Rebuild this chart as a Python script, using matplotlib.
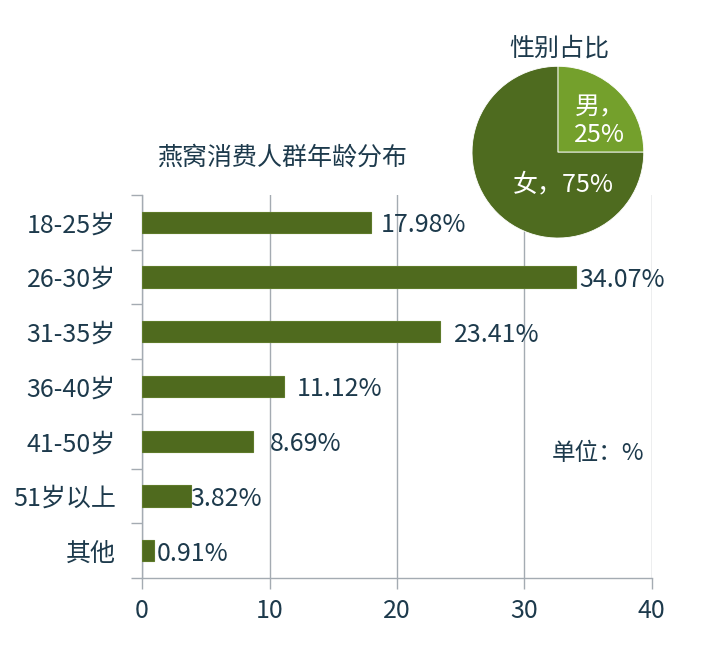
import numpy as np
import matplotlib.pyplot as plt

plt.rcParams['font.family'] = ['Noto Sans CJK SC', 'DejaVu Sans']

# 年龄分布数据
categories = ["18-25岁", "26-30岁", "31-35岁", "36-40岁", "41-50岁", "51岁以上", "其他"]
values = [17.98, 34.07, 23.41, 11.12, 8.69, 3.82, 0.91]
value_labels = ["17.98%", "34.07%", "23.41%", "11.12%", "8.69%", "3.82%", "0.91%"]
label_pad = [7, 2, 10, 9, 12, 0, 2]  # 标签偏移 (pt)

# 性别占比
gender = ["男", "女"]
gender_share = [25, 75]

txt = '#1d3a4c'
bar_c = '#4f6a1e'
grid_c = '#a4abb2'
fs = 18

fig = plt.figure(figsize=(7.25, 6.63), dpi=100)
ax = fig.add_axes([0.196, 0.128, 0.703, 0.578])

y = np.arange(len(categories))
ax.barh(y, values, height=0.39, color=bar_c, edgecolor='#5e7a2a', linewidth=0.8, zorder=3)
for yi, v, lab, p in zip(y, values, value_labels, label_pad):
    ax.annotate(lab, (v, yi), xytext=(p, -2), textcoords='offset points',
                ha='left', va='center', fontsize=fs, color=txt)

ax.set_ylim(len(categories) - 0.5, -0.5)
ax.set_xlim(0, 40)
ax.set_xticks([0, 10, 20, 30, 40])
ax.set_yticks(y)
ax.set_yticklabels(categories)
ax.set_yticks(np.arange(-0.5, len(categories)), minor=True)
ax.tick_params(axis='y', which='major', length=0, pad=19, labelsize=fs, labelcolor=txt)
ax.tick_params(axis='y', which='minor', length=8, color=grid_c, width=1)
ax.tick_params(axis='x', length=8, color=grid_c, width=1, labelsize=fs, labelcolor=txt, pad=6)
ax.grid(axis='x', color=grid_c, linewidth=1, zorder=0)
for s in ['top', 'right']:
    ax.spines[s].set_visible(False)
for s in ['left', 'bottom']:
    ax.spines[s].set_color(grid_c)
    ax.spines[s].set_linewidth(1)

ax.text(0.986, 0.326, "单位：%", transform=ax.transAxes, ha='right', va='center',
        fontsize=17, color=txt)
fig.text(0.389, 0.763, "燕窝消费人群年龄分布", ha='center', va='center', fontsize=fs, color=txt)

# 饼图
pax = fig.add_axes([0.651, 0.641, 0.237, 0.259])
pax.pie(gender_share, colors=['#74a02c', '#4e6b1f'], startangle=90, counterclock=False,
        wedgeprops=dict(edgecolor='white', linewidth=0.6))
pax.set_xlim(-1, 1)
pax.set_ylim(-1, 1)
pax.set_aspect('equal')
pax.text(0.49, 0.36, "男，\n25%", ha='center', va='center', fontsize=fs, color='white',
         linespacing=1.1)
pax.text(0.06, -0.38, "女，75%", ha='center', va='center', fontsize=fs, color='white')
fig.text(0.772, 0.927, "性别占比", ha='center', va='center', fontsize=fs, color=txt)

fig.savefig("out.png", dpi=100)
